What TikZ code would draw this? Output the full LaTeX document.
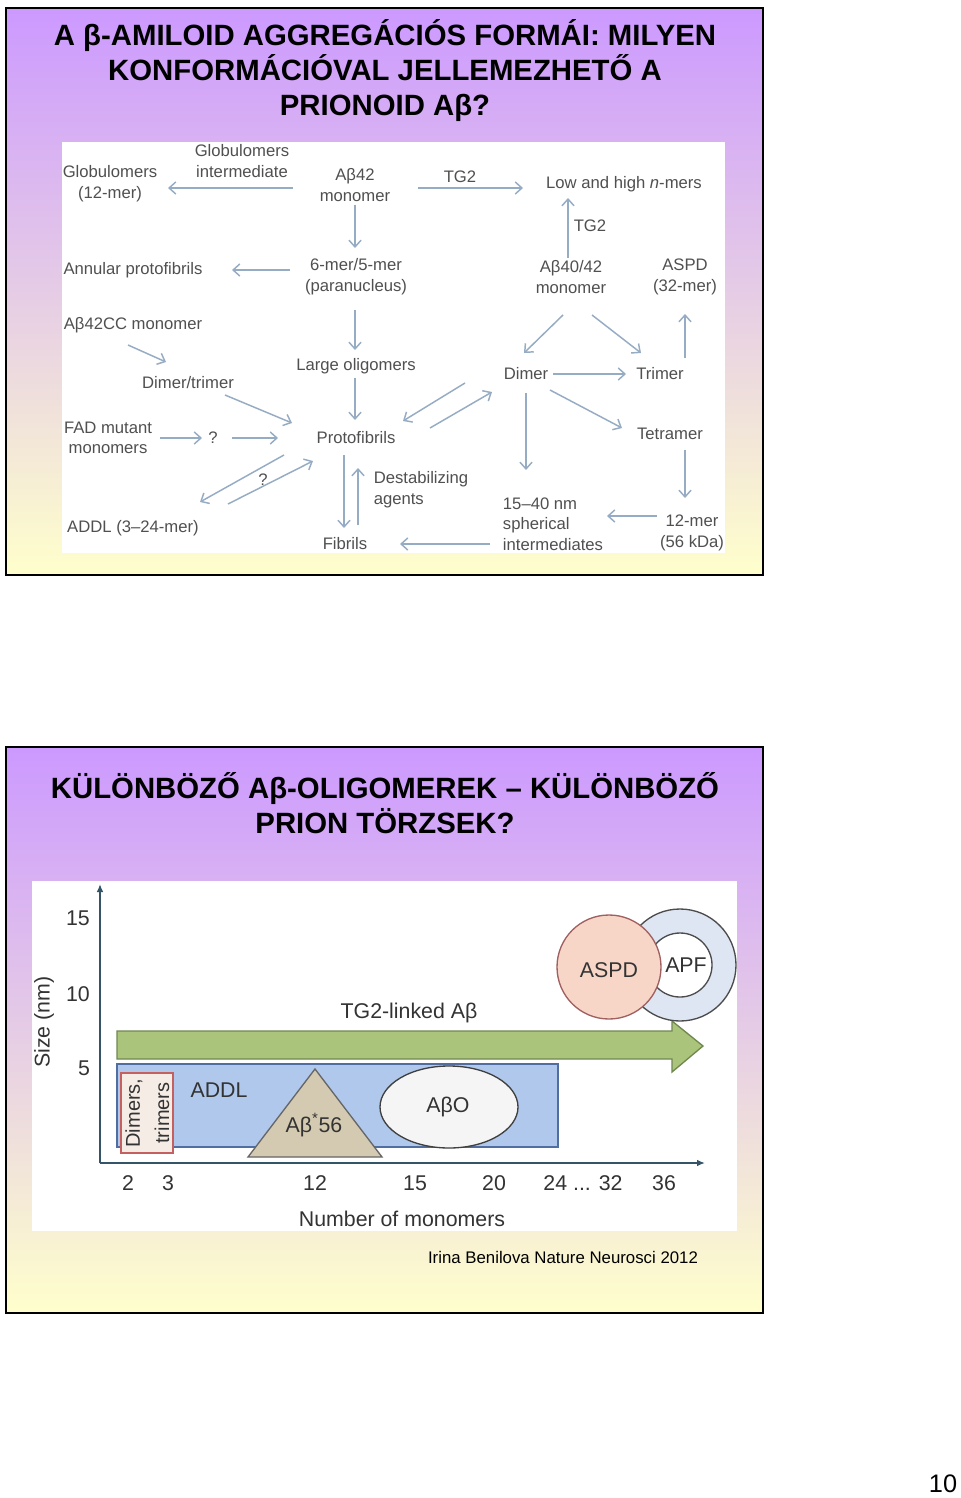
\documentclass[tikz,border=0pt]{standalone}
\usepackage{fontspec}
\setmainfont{Liberation Sans}
\usepackage{tikz}
\usetikzlibrary{calc,arrows.meta}

\definecolor{slidepurple}{RGB}{204,153,255}
\definecolor{slideyellow}{RGB}{255,255,204}
\definecolor{labgray}{RGB}{80,80,80}
\definecolor{flowblue}{RGB}{150,172,196}
\definecolor{axisteal}{RGB}{52,84,104}
\definecolor{tggreen}{RGB}{170,196,124}
\definecolor{tgedge}{RGB}{112,136,80}
\definecolor{addlblue}{RGB}{176,200,236}
\definecolor{addledge}{RGB}{80,110,160}
\definecolor{dimfill}{RGB}{246,236,230}
\definecolor{dimedge}{RGB}{196,96,96}
\definecolor{tanfill}{RGB}{212,202,178}
\definecolor{aspdfill}{RGB}{247,214,200}
\definecolor{aspdedge}{RGB}{160,96,96}
\definecolor{apfring}{RGB}{221,230,242}

\tikzset{
  slide/.style={draw=black, line width=1.5pt, top color=slidepurple, bottom color=slideyellow},
  headline/.style={font=\fontsize{22}{26.25}\selectfont\bfseries, align=center},
  lbl/.style={text=labgray, font=\fontsize{12.5}{15.5}\selectfont, align=center, inner sep=1pt},
  flow/.style={draw=flowblue, line width=1.1pt, -{Straight Barb[length=5pt,width=9pt]}},
  chartlbl/.style={text=black!80, font=\fontsize{16}{19}\selectfont, inner sep=1pt},
}

\begin{document}
\begin{tikzpicture}[x=0.75pt,y=-0.75pt]
	\useasboundingbox (0,0) rectangle (960,1498);
	% first slide
	\draw[slide] (6,8) rectangle (763,575);
	\fill[white] (62,142) rectangle (725,553);
	\node[headline] (title1) at (385,71) {A β-AMILOID AGGREGÁCIÓS FORMÁI: MILYEN\\KONFORMÁCIÓVAL JELLEMEZHETŐ A\\PRIONOID Aβ?};

	\node[lbl] (gint) at (242,161) {Globulomers\\intermediate};
	\node[lbl] (glob) at (110,184) {Globulomers\\(12-mer)};
	\node[lbl] (a42) at (355,185) {Aβ42\\monomer};
	\node[lbl] (tga) at (460,177) {TG2};
	\node[lbl] (low) at (624,184) {Low and high \textit{n}-mers};
	\node[lbl] (tgb) at (590,226) {TG2};
	\node[lbl] (ann) at (133,270) {Annular protofibrils};
	\node[lbl] (six) at (356,277) {6-mer/5-mer\\(paranucleus)};
	\node[lbl] (a4042) at (571,277) {Aβ40/42\\monomer};
	\node[lbl] (aspd) at (685,277) {ASPD\\(32-mer)};
	\node[lbl] (cc) at (133,325) {Aβ42CC monomer};
	\node[lbl] (large) at (356,366) {Large oligomers};
	\node[lbl] (dimtri) at (188,383) {Dimer/trimer};
	\node[lbl] (dimer) at (526,374) {Dimer};
	\node[lbl] (trimer) at (660,374) {Trimer};
	\node[lbl] (fad) at (108,438) {FAD mutant\\monomers};
	\node[lbl] (qa) at (213,438) {?};
	\node[lbl] (proto) at (356,438) {Protofibrils};
	\node[lbl] (tetra) at (670,434) {Tetramer};
	\node[lbl] (qb) at (263,480) {?};
	\node[lbl, align=left] (destab) at (421,490) {Destabilizing\\agents};
	\node[lbl] (addl) at (133,528) {ADDL (3–24-mer)};
	\node[lbl, align=left] (sph) at (553,524) {15–40 nm\\spherical\\intermediates};
	\node[lbl] (dodec) at (692,533) {12-mer\\(56 kDa)};
	\node[lbl] (fib) at (345,544) {Fibrils};

	\draw[flow] ($(a42)+(-62,3)$) -- ($(glob)+(58,4)$);
	\draw[flow] ($(a42)+(63,3)$) -- ($(low)+(-101,4)$);
	\draw[flow] ($(a4042)+(-3,-19)$) -- ($(low)+(-56,14)$);
	\draw[flow] ($(a42)+(0,20)$) -- ($(six)+(-1,-29)$);
	\draw[flow] ($(six)+(-66,-7)$) -- ($(ann)+(99,0)$);
	\draw[flow] ($(six)+(-1,33)$) -- ($(large)+(-1,-16)$);
	\draw[flow] ($(large)+(-1,12)$) -- ($(proto)+(-1,-18)$);
	\draw[flow] ($(cc)+(-5,20)$) -- ($(dimtri)+(-22,-21)$);
	\draw[flow] ($(dimtri)+(37,12)$) -- ($(proto)+(-64,-15)$);
	\draw[flow] ($(fad)+(52,0)$) -- ($(qa)+(-11,0)$);
	\draw[flow] ($(qa)+(19,0)$) -- ($(proto)+(-78,0)$);
	\draw[flow] ($(proto)+(-72,17)$) -- ($(addl)+(67,-26)$);
	\draw[flow] ($(addl)+(95,-24)$) -- ($(proto)+(-43,23)$);
	\draw[flow] ($(proto)+(-12,17)$) -- ($(fib)+(-1,-16)$);
	\draw[flow] ($(fib)+(13,-19)$) -- ($(proto)+(2,30)$);
	\draw[flow] ($(dimer)+(-61,9)$) -- ($(proto)+(47,-17)$);
	\draw[flow] ($(proto)+(74,-10)$) -- ($(dimer)+(-34,18)$);
	\draw[flow] ($(a4042)+(-8,38)$) -- ($(dimer)+(-2,-21)$);
	\draw[flow] ($(a4042)+(21,38)$) -- ($(trimer)+(-19,-21)$);
	\draw[flow] ($(trimer)+(25,-16)$) -- ($(aspd)+(0,37)$);
	\draw[flow] ($(dimer)+(27,0)$) -- ($(trimer)+(-34,0)$);
	\draw[flow] ($(dimer)+(24,16)$) -- ($(tetra)+(-48,-6)$);
	\draw[flow] ($(dimer)+(0,19)$) -- ($(sph)+(-27,-54)$);
	\draw[flow] ($(tetra)+(15,16)$) -- ($(dodec)+(-7,-35)$);
	\draw[flow] ($(dodec)+(-35,-17)$) -- ($(sph)+(54,-8)$);
	\draw[flow] ($(sph)+(-63,20)$) -- ($(fib)+(55,0)$);

	% second slide
	\draw[slide] (6,747) rectangle (763,1313);
	\fill[white] (32,881) rectangle (737,1231);
	\node[headline] (title2) at (385,803.5) {KÜLÖNBÖZŐ Aβ-OLIGOMEREK – KÜLÖNBÖZŐ\\PRION TÖRZSEK?};

	\coordinate (O) at (100,1163);
	\coordinate (Y) at (100,884);
	\coordinate (X) at (705,1163);
	\draw[fill=tggreen, draw=tgedge, line width=1pt] (117,1031) -- (672,1031) -- (672,1021) -- (703,1046) -- (672,1072) -- (672,1059) -- (117,1059) -- cycle;
	\draw[fill=addlblue, draw=addledge, line width=1pt] (117,1064) rectangle (558,1147);
	\draw[fill=dimfill, draw=dimedge, line width=0.8pt] (121,1073) rectangle (173,1153);
	\draw[fill=tanfill, draw=black!60, line width=1pt] (315,1069) -- (382,1157) -- (248,1157) -- cycle;
	\draw[fill=black!4, draw=black!75, line width=1pt] (449,1107) ellipse [x radius=69, y radius=41];
	\draw[fill=apfring, draw=black!70, line width=1pt] (680,965) circle [radius=56];
	\draw[fill=white, draw=black!70, line width=1pt] (680,965) circle [radius=32];
	\draw[fill=aspdfill, draw=aspdedge, line width=1pt] (609,967) circle [radius=52];
	\draw[axisteal, line width=1.2pt, -{Latex[length=6pt,width=5pt]}] (O) -- (Y);
	\draw[axisteal, line width=1.2pt, -{Latex[length=6pt,width=5pt]}] (O) -- (X);

	\node[chartlbl] (tglab) at (409,1013) {TG2-linked Aβ};
	\node[chartlbl] (aspdlab) at (609,970) {ASPD};
	\node[chartlbl] (apflab) at (686,965) {APF};
	\node[chartlbl] (addllab) at (219,1090) {ADDL};
	\node[chartlbl] (starlab) at (314,1125) {Aβ\textsuperscript{*}56};
	\node[chartlbl] (aolab) at (448,1107) {AβO};
	\node[chartlbl, font=\fontsize{15}{18}\selectfont, rotate=90] (dimlab) at (134,1113) {Dimers,};
	\node[chartlbl, font=\fontsize{15}{18}\selectfont, rotate=90] (trilab) at (162,1113) {trimers};
	\node[chartlbl, rotate=90] (ylab) at (44,1022) {Size (nm)};
	\node[chartlbl] (yfifteen) at (78,918) {15};
	\node[chartlbl] (yten) at (78,994) {10};
	\node[chartlbl] (yfive) at (84,1068) {5};
	\node[chartlbl] (xtwo) at (128,1183) {2};
	\node[chartlbl] (xthree) at (168,1183) {3};
	\node[chartlbl] (xtwelve) at (315,1183) {12};
	\node[chartlbl] (xfifteen) at (415,1183) {15};
	\node[chartlbl] (xtwenty) at (494,1183) {20};
	\node[chartlbl] (xdots) at (583,1183) {24 ... 32};
	\node[chartlbl] (xthirtysix) at (664,1183) {36};
	\node[chartlbl] (xlab) at (402,1219) {Number of monomers};

	\node[font=\fontsize{12.6}{15}\selectfont] (cite) at (563,1257) {Irina Benilova Nature Neurosci 2012};
	\node[font=\fontsize{19}{22}\selectfont] (pagenum) at (943,1484) {10};
\end{tikzpicture}
\end{document}
